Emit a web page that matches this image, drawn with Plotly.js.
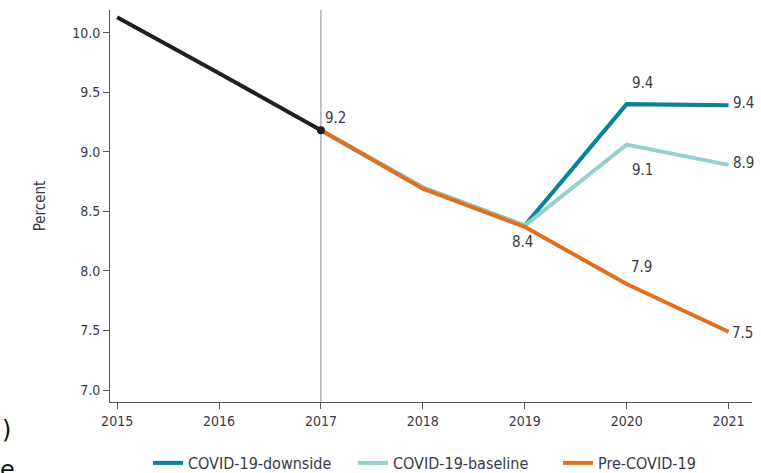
<!DOCTYPE html>
<html>
<head>
<meta charset="utf-8">
<script src="https://cdn.plot.ly/plotly-3.0.1.min.js"></script>
<style>html,body{margin:0;padding:0;background:#fff;}#chart{width:761px;height:473px;}</style>
</head>
<body>
<div id="chart"></div>
<script>
// Data
const histYears = [2015, 2016, 2017];
const histValues = [10.13, 9.66, 9.18];
const projYears = [2017, 2018, 2019, 2020, 2021];
const downsideValues = [9.18, 8.70, 8.38, 9.40, 9.39];
const baselineValues = [9.18, 8.70, 8.38, 9.06, 8.89];
const preCovidValues = [9.18, 8.69, 8.37, 7.89, 7.49];
const seriesNames = ["COVID-19-downside", "COVID-19-baseline", "Pre-COVID-19"];
const xTicks = [2015, 2016, 2017, 2018, 2019, 2020, 2021];
const yTicks = [7.0, 7.5, 8.0, 8.5, 9.0, 9.5, 10.0];
// value labels: [x, y, text]
const labelsData = [
  [2017, 9.18, "9.2"],
  [2019, 8.38, "8.4"],
  [2020, 7.89, "7.9"],
  [2021, 7.49, "7.5"],
  [2020, 9.40, "9.4"],
  [2021, 9.39, "9.4"],
  [2020, 9.06, "9.1"],
  [2021, 8.89, "8.9"]
];

const FONT = "'Liberation Sans Narrow', 'DejaVu Sans Condensed', 'Roboto', sans-serif";
const C_DOWN = "#0a8299";
const C_BASE = "#92d1cc";
const C_PRE = "#e06f20";
const C_HIST = "#231f20";

const traces = [
  {x: projYears, y: downsideValues, name: seriesNames[0], type: "scatter", mode: "lines",
   line: {color: C_DOWN, width: 4}},
  {x: projYears, y: baselineValues, name: seriesNames[1], type: "scatter", mode: "lines",
   line: {color: C_BASE, width: 4}},
  {x: projYears, y: preCovidValues, name: seriesNames[2], type: "scatter", mode: "lines",
   line: {color: C_PRE, width: 4}},
  {x: histYears, y: histValues, name: "History", type: "scatter", mode: "lines", showlegend: false,
   line: {color: C_HIST, width: 4}},
  {x: [histYears[2]], y: [histValues[2]], type: "scatter", mode: "markers", showlegend: false,
   marker: {color: C_HIST, size: 8}}
];

// label offsets (pixels) per label, styling only
const offs = [
  [15, 12], [-2, -16], [15, 17], [14, -1],
  [16, 21], [15, 2], [16, -25], [15, 2]
];
const annotations = labelsData.map((d, i) => ({
  x: d[0], y: d[1], xref: "x", yref: "y", text: d[2], showarrow: false,
  xshift: offs[i][0], yshift: offs[i][1],
  font: {family: FONT, size: 15, color: "#3a3a48"}
}));
annotations.push({x: (0 - 110) / 642, y: (402 - 430) / 392, xref: "paper", yref: "paper", xanchor: "left", yanchor: "middle",
  text: ")", showarrow: false, font: {family: "DejaVu Sans", size: 24, color: "#111"}});
annotations.push({x: (-2 - 110) / 642, y: (402 - 470) / 392, xref: "paper", yref: "paper", xanchor: "left", yanchor: "middle",
  text: "e", showarrow: false, font: {family: "DejaVu Sans", size: 24, color: "#111"}});

const layout = {
  width: 761, height: 473,
  margin: {l: 110, r: 9, t: 10, b: 71},
  paper_bgcolor: "#fff", plot_bgcolor: "#fff",
  font: {family: FONT, size: 14, color: "#3a3a48"},
  showlegend: true,
  legend: {orientation: "h", xref: "container", yref: "container", x: 148 / 761, xanchor: "left",
           y: 10 / 473, yanchor: "middle", entrywidth: 160, entrywidthmode: "pixels", itemwidth: 30,
           font: {family: FONT, size: 16, color: "#3a3a48"}, traceorder: "normal"},
  xaxis: {range: [2014.93, 2021.23], tickvals: xTicks, ticktext: xTicks.map(String),
          showgrid: false, zeroline: false, showline: true, linecolor: "#555", linewidth: 1,
          ticks: "outside", ticklen: 6, tickcolor: "#555", tickfont: {family: FONT, size: 14, color: "#3a3a48"}},
  yaxis: {range: [6.9, 10.19], tickvals: yTicks, ticktext: yTicks.map(v => v.toFixed(1)),
          showgrid: false, zeroline: false, showline: true, linecolor: "#555", linewidth: 1,
          ticks: "outside", ticklen: 6, tickcolor: "#555", tickfont: {family: FONT, size: 14, color: "#3a3a48"},
          title: {text: "Percent", font: {family: FONT, size: 15, color: "#3a3a48"}, standoff: 22}},
  shapes: [{type: "line", xref: "x", yref: "paper", x0: 2017, x1: 2017, y0: 0, y1: 1,
            line: {color: "#888", width: 1}, layer: "below"}],
  annotations: annotations
};

Plotly.newPlot("chart", traces, layout, {displayModeBar: false, staticPlot: true});
</script>
</body>
</html>
